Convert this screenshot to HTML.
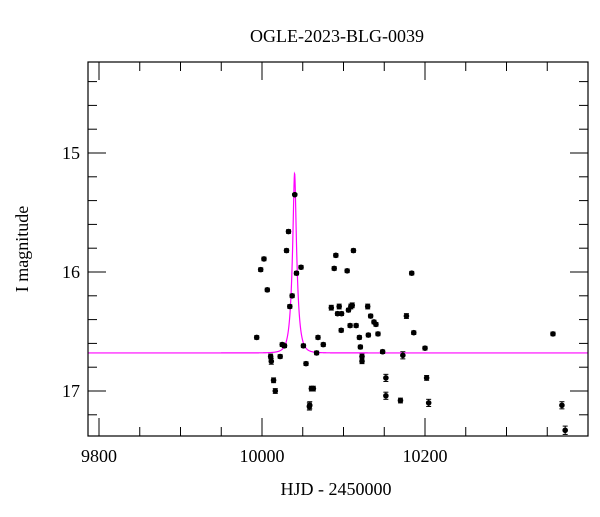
<!DOCTYPE html>
<html><head><meta charset="utf-8"><style>
body{margin:0;background:#fff;}
svg text{font-family:"Liberation Serif",serif;fill:#000;}
</style></head><body>
<svg width="600" height="512" viewBox="0 0 600 512">
<text x="337" y="42" text-anchor="middle" font-size="18">OGLE-2023-BLG-0039</text>
<text x="336" y="495" text-anchor="middle" font-size="18">HJD - 2450000</text>
<text transform="translate(28,249) rotate(-90)" text-anchor="middle" font-size="18">I magnitude</text>
<g id="ticks"></g>
<g id="model"></g>
<g id="points"></g>
<rect x="88" y="62" width="500" height="374" fill="none" stroke="#000" stroke-width="1.2"/>
</svg>
<script>
const xTicks=[9800,10000,10200];
const yTicks=[15,16,17];
const hjd=[9993.5,9998.4,10002.4,10006.5,10010.6,10011.4,10014.2,10016.3,10022.3,10024.8,10027.6,10030.1,10032.5,10034.1,10037,10040.2,10042.3,10047.9,10050.8,10054,10058.1,10058.6,10060.6,10063,10067,10068.7,10075.2,10085,10088.6,10090.6,10092.7,10094.7,10097.2,10097.6,10104.5,10106.1,10108.1,10109,10110.7,10112.2,10115.5,10119.5,10120.7,10122.7,10122.7,10129.7,10130.5,10133.3,10137.4,10139.8,10142.3,10148,10152,10152,10169.9,10172.8,10177.2,10183.7,10186.2,10200,10202,10204.5,10357,10368,10372];
const mag=[16.55,15.98,15.89,16.15,16.71,16.75,16.91,17.0,16.71,16.61,16.62,15.82,15.66,16.29,16.2,15.35,16.01,15.96,16.62,16.77,17.13,17.12,16.98,16.98,16.68,16.55,16.61,16.3,15.97,15.86,16.35,16.29,16.49,16.35,15.99,16.32,16.45,16.29,16.28,15.82,16.45,16.55,16.63,16.71,16.75,16.29,16.53,16.37,16.42,16.44,16.52,16.67,16.89,17.04,17.08,16.7,16.37,16.01,16.51,16.64,16.89,17.1,16.52,17.12,17.33];
const err=[0.015,0.015,0.015,0.015,0.02,0.025,0.02,0.02,0.015,0.015,0.015,0.015,0.015,0.015,0.015,0.01,0.015,0.015,0.015,0.015,0.03,0.03,0.02,0.02,0.015,0.015,0.015,0.02,0.015,0.015,0.015,0.02,0.015,0.015,0.015,0.015,0.015,0.02,0.02,0.015,0.015,0.015,0.015,0.02,0.02,0.02,0.015,0.015,0.015,0.015,0.015,0.015,0.03,0.03,0.02,0.03,0.02,0.015,0.015,0.015,0.02,0.03,0.015,0.03,0.035];
const baseMag=16.68, t0=10040, u0=0.255, tE=6;
const sx=d=>99+(d-9800)*0.815;
const sy=m=>153+(m-15)*119;
const NS="http://www.w3.org/2000/svg";
function mk(tag,attrs,parent){const e=document.createElementNS(NS,tag);for(const k in attrs)e.setAttribute(k,attrs[k]);parent.appendChild(e);return e;}
const tg=document.getElementById('ticks');
for(let d=9800;d<=10400;d+=50){const x=sx(d);if(x<88||x>588)continue;const L=(d%200===0)?18:9;
 const t1=mk('line',{x1:x,x2:x,y1:62,y2:62+L,stroke:'#000','stroke-width':1},tg);
 
 
 const t2=mk('line',{x1:x,x2:x,y1:436,y2:436-L,stroke:'#000','stroke-width':1},tg);
 
 }
for(let i=0;i<=20;i++){const m=14.2+i*0.2;const y=sy(m);if(y<62||y>436)continue;const maj=Math.abs(m-Math.round(m))<1e-6;const L=maj?18:9;
 const t1=mk('line',{x1:88,x2:88+L,y1:y,y2:y,stroke:'#000','stroke-width':1},tg);
 
 
 const t2=mk('line',{x1:588,x2:588-L,y1:y,y2:y,stroke:'#000','stroke-width':1},tg);
 
 }
xTicks.forEach(v=>{const t=mk('text',{x:sx(v),y:462,'text-anchor':'middle','font-size':18},tg);t.textContent=v;
 
 });
yTicks.forEach(v=>{const t=mk('text',{x:80,y:sy(v)+6,'text-anchor':'end','font-size':18},tg);t.textContent=v;
 
 });
let pts=[];
for(let px=88;px<=588;px+=0.25){const t=9800+(px-99)/0.815;const u=Math.sqrt(u0*u0+((t-t0)/tE)**2);const A=(u*u+2)/(u*Math.sqrt(u*u+4));pts.push(px.toFixed(2)+','+sy(baseMag-2.5*Math.log10(A)).toFixed(2));}
const ml=mk('polyline',{points:pts.join(' '),fill:'none',stroke:'#ff00ff','stroke-width':1.2},document.getElementById('model'));


const pg=document.getElementById('points');
hjd.forEach((d,i)=>{const x=sx(d),y=sy(mag[i]),e=err[i]*119;
 const g=mk('g',{},pg);
 
 
 mk('line',{x1:x,x2:x,y1:y-e,y2:y+e,stroke:'#000','stroke-width':1},g);
 mk('line',{x1:x-2.5,x2:x+2.5,y1:y-e,y2:y-e,stroke:'#000','stroke-width':1},g);
 mk('line',{x1:x-2.5,x2:x+2.5,y1:y+e,y2:y+e,stroke:'#000','stroke-width':1},g);
 mk('circle',{cx:x,cy:y,r:2.8,fill:'#000'},g);});
</script>
</body></html>
